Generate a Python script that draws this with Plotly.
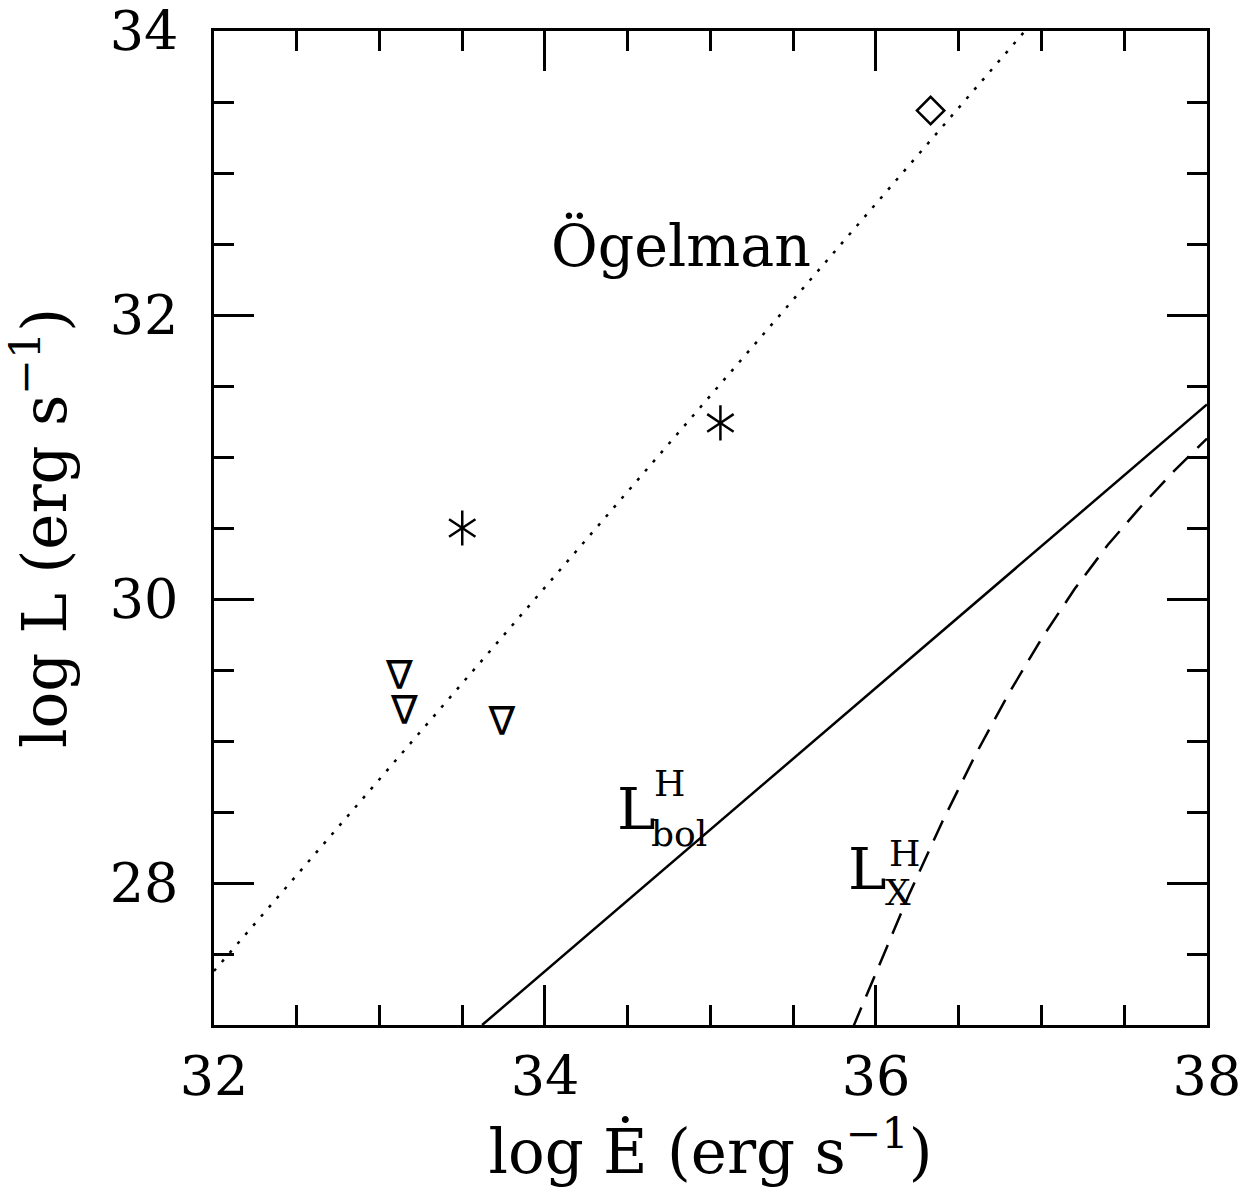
import plotly.graph_objects as go

# Pulsar luminosity vs spin-down power (both log, erg s^-1)
tri_x = [33.12, 33.15, 33.74]
tri_y = [29.44, 29.19, 29.11]
ast_x = [33.50, 35.06]
ast_y = [30.50, 31.24]
dia_x = [36.33]
dia_y = [33.44]

# Ögelman relation (dotted)
oeg_x = [32.0, 36.9]
oeg_y = [27.38, 34.0]
# L_bol^H (solid)
bol_x = [33.62, 38.0]
bol_y = [27.0, 31.37]
# L_X^H (dashed)
lx_x = [35.86, 36.0, 36.2, 36.4, 36.6, 36.8, 37.0, 37.2, 37.4, 37.6, 37.8, 38.0]
lx_y = [26.98, 27.37, 27.92, 28.43, 28.90, 29.33, 29.72, 30.07, 30.38, 30.65, 30.90, 31.13]

x_ticks = [32, 34, 36, 38]
y_ticks = [28, 30, 32, 34]

SERIF = "DejaVu Serif"
fig = go.Figure()

fig.add_trace(go.Scatter(x=oeg_x, y=oeg_y, mode="lines",
                         line=dict(color="black", width=2.5, dash="3px,9px")))
fig.add_trace(go.Scatter(x=bol_x, y=bol_y, mode="lines",
                         line=dict(color="black", width=2.5)))
fig.add_trace(go.Scatter(x=lx_x, y=lx_y, mode="lines",
                         line=dict(color="black", width=2.5, dash="22px,12px")))

fig.add_trace(go.Scatter(x=tri_x, y=tri_y, mode="text", text=["∇"] * len(tri_x),
                         textfont=dict(family="DejaVu Sans", size=40, color="black")))
for sym in ["y-up-open", "y-down-open"]:
    fig.add_trace(go.Scatter(x=ast_x, y=ast_y, mode="markers",
                             marker=dict(symbol=sym, size=22, color="black",
                                         line=dict(color="black", width=2.5))))
fig.add_trace(go.Scatter(x=dia_x, y=dia_y, mode="markers",
                         marker=dict(symbol="diamond-open", size=21, color="black",
                                     line=dict(color="black", width=2.5))))

ann = [
    dict(x=34.82, y=32.49, text="Ögelman", size=57),
    dict(x=34.55, y=28.52, text="L", size=58),
    dict(x=34.75, y=28.70, text="H", size=36),
    dict(x=34.81, y=28.35, text="bol", size=36),
    dict(x=35.95, y=28.10, text="L", size=58),
    dict(x=36.17, y=28.21, text="H", size=36),
    dict(x=36.13, y=27.93, text="X", size=36),
]
for a in ann:
    fig.add_annotation(x=a["x"], y=a["y"], text=a["text"], showarrow=False,
                       font=dict(family=SERIF, size=a["size"], color="black"),
                       xanchor="center", yanchor="middle")

axis_common = dict(
    showgrid=False, zeroline=False, showline=True, linecolor="black", linewidth=2.5,
    mirror="ticks", ticks="inside", ticklen=40, tickwidth=2.5, tickcolor="black",
    tickfont=dict(family=SERIF, size=54, color="black"), ticklabeloverflow="allow",
    automargin=False,
    minor=dict(ticks="inside", ticklen=20, tickwidth=2.5, tickcolor="black", dtick=0.5),
)
fig.update_xaxes(range=[32, 38.0001], tickvals=x_ticks, ticklabelstandoff=2,
                 title=dict(text="log Ė (erg s<sup>−1</sup>)",
                            font=dict(family=SERIF, size=61, color="black"), standoff=24),
                 **axis_common)
fig.update_yaxes(range=[27, 34.0001], tickvals=y_ticks, ticklabelstandoff=22,
                 title=dict(text="log L (erg s<sup>−1</sup>)",
                            font=dict(family=SERIF, size=61, color="black"), standoff=24),
                 **axis_common)

fig.update_layout(width=1253, height=1200, showlegend=False,
                  plot_bgcolor="white", paper_bgcolor="white",
                  margin=dict(l=214, r=46, t=31, b=175))
fig.write_html("out.html")
